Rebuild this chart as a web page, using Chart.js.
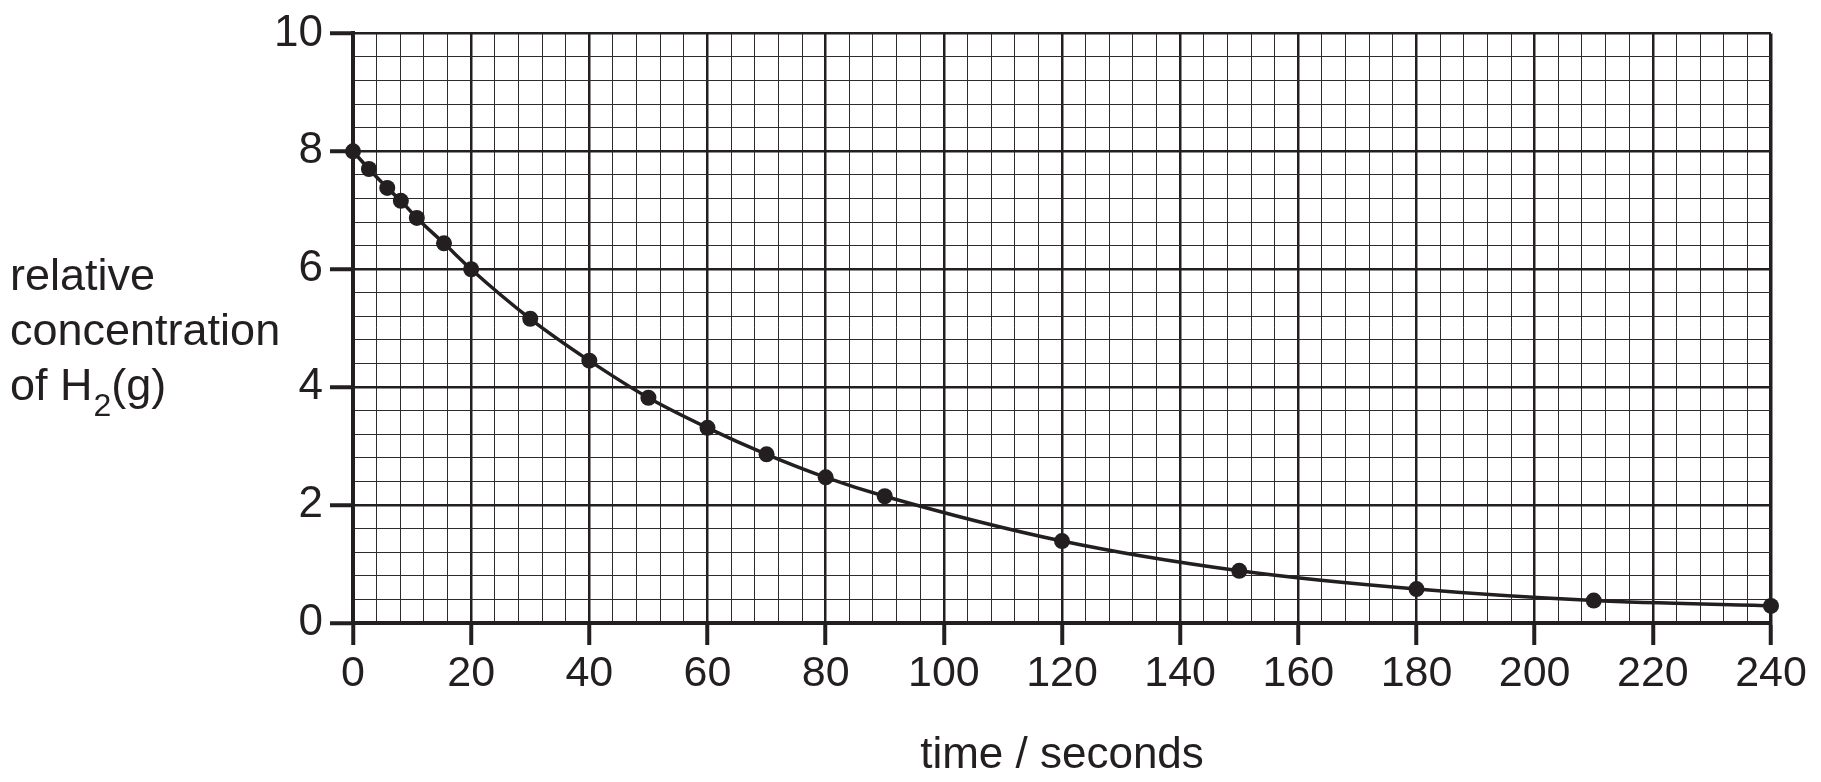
<!DOCTYPE html>
<html>
<head>
<meta charset="utf-8">
<script src="https://cdn.jsdelivr.net/npm/chart.js@4.4.1/dist/chart.umd.min.js"></script>
<style>
  html, body { margin: 0; padding: 0; background: #ffffff; }
  #wrap { width: 1821px; height: 782px; }
</style>
</head>
<body>
<div id="wrap"><canvas id="c" width="1821" height="782"></canvas></div>
<script>
// ---- data ----
const times = [0, 2.7, 5.8, 8.1, 10.8, 15.4, 20, 30, 40, 50, 60, 70, 80, 90, 120, 150, 180, 210, 240];
const concentrations = [8.0, 7.70, 7.38, 7.16, 6.87, 6.44, 6.0, 5.16, 4.45, 3.82, 3.31, 2.86, 2.47, 2.15, 1.39, 0.885, 0.575, 0.38, 0.29];
const xTickLabels = [0, 20, 40, 60, 80, 100, 120, 140, 160, 180, 200, 220, 240];
const yTickLabels = [0, 2, 4, 6, 8, 10];
const yTitleLines = ["relative", "concentration", "of H"];
const yTitleSub = "2";
const yTitleTail = "(g)";
const xTitle = "time / seconds";

const INK = '#231f20';
const MINOR = '#2e2b2c';
const FONT = '"Liberation Sans", Arial, Helvetica, sans-serif';

function isMajor(v, list) {
  return list.some(t => Math.abs(t - v) < 1e-6);
}

const yTitlePlugin = {
  id: 'yTitle',
  afterDraw(chart) {
    const ctx = chart.ctx;
    ctx.save();
    ctx.fillStyle = INK;
    ctx.textAlign = 'left';
    ctx.textBaseline = 'alphabetic';
    const size = 45;
    ctx.font = size + 'px ' + FONT;
    const x = 10;
    const baselines = [290, 345, 400];
    ctx.fillText(yTitleLines[0], x, baselines[0]);
    ctx.fillText(yTitleLines[1], x, baselines[1]);
    ctx.fillText(yTitleLines[2], x, baselines[2]);
    let cx = x + ctx.measureText(yTitleLines[2]).width;
    ctx.font = Math.round(size * 0.72) + 'px ' + FONT;
    ctx.fillText(yTitleSub, cx + 1, baselines[2] + 16);
    cx += ctx.measureText(yTitleSub).width + 1;
    ctx.font = size + 'px ' + FONT;
    ctx.fillText(yTitleTail, cx, baselines[2]);
    ctx.restore();
  }
};

const points = times.map((t, i) => ({ x: t, y: concentrations[i] }));

new Chart(document.getElementById('c'), {
  type: 'line',
  data: {
    datasets: [{
      data: points,
      borderColor: INK,
      backgroundColor: INK,
      borderWidth: 3.5,
      pointRadius: 8,
      pointHoverRadius: 8,
      pointBackgroundColor: INK,
      pointBorderWidth: 0,
      cubicInterpolationMode: 'monotone',
      fill: false,
      clip: false
    }]
  },
  options: {
    responsive: false,
    animation: false,
    events: [],
    layout: { padding: { left: 0, top: 32, right: 50, bottom: 0 } },
    plugins: { legend: { display: false }, tooltip: { enabled: false }, title: { display: false } },
    scales: {
      x: {
        type: 'linear',
        position: 'bottom',
        min: 0, max: 240,
        afterFit(scale) { scale.height = 782 - 623; },
        ticks: {
          stepSize: 4,
          autoSkip: false,
          maxRotation: 0,
          padding: 3,
          color: INK,
          font: { size: 43, family: FONT },
          callback: (v) => isMajor(v, xTickLabels) ? String(Math.round(v)) : ''
        },
        grid: {
          drawOnChartArea: true,
          drawTicks: true,
          tickLength: 22,
          color: (c) => isMajor(c.tick.value, xTickLabels) ? INK : MINOR,
          lineWidth: (c) => c.tick.value === 240 ? 3.5 : (isMajor(c.tick.value, xTickLabels) ? 2.5 : 1),
          tickColor: (c) => isMajor(c.tick.value, xTickLabels) ? INK : 'rgba(0,0,0,0)',
          tickWidth: 4
        },
        border: { display: true, color: INK, width: 4 },
        title: {
          display: true,
          text: xTitle,
          color: INK,
          font: { size: 44, family: FONT },
          padding: { top: 0, bottom: 0 }
        }
      },
      y: {
        type: 'linear',
        min: 0, max: 10,
        afterFit(scale) { scale.width = 353; },
        ticks: {
          stepSize: 0.4,
          autoSkip: false,
          padding: 7,
          color: INK,
          font: { size: 44, family: FONT },
          callback: (v) => isMajor(v, yTickLabels) ? String(Math.round(v)) : ''
        },
        grid: {
          drawOnChartArea: true,
          drawTicks: true,
          tickLength: 23,
          color: (c) => isMajor(c.tick.value, yTickLabels) ? INK : MINOR,
          lineWidth: (c) => isMajor(c.tick.value, yTickLabels) ? 2.5 : 1,
          tickColor: (c) => isMajor(c.tick.value, yTickLabels) ? INK : 'rgba(0,0,0,0)',
          tickWidth: 4
        },
        border: { display: true, color: INK, width: 4 }
      }
    }
  },
  plugins: [yTitlePlugin]
});
</script>
</body>
</html>
